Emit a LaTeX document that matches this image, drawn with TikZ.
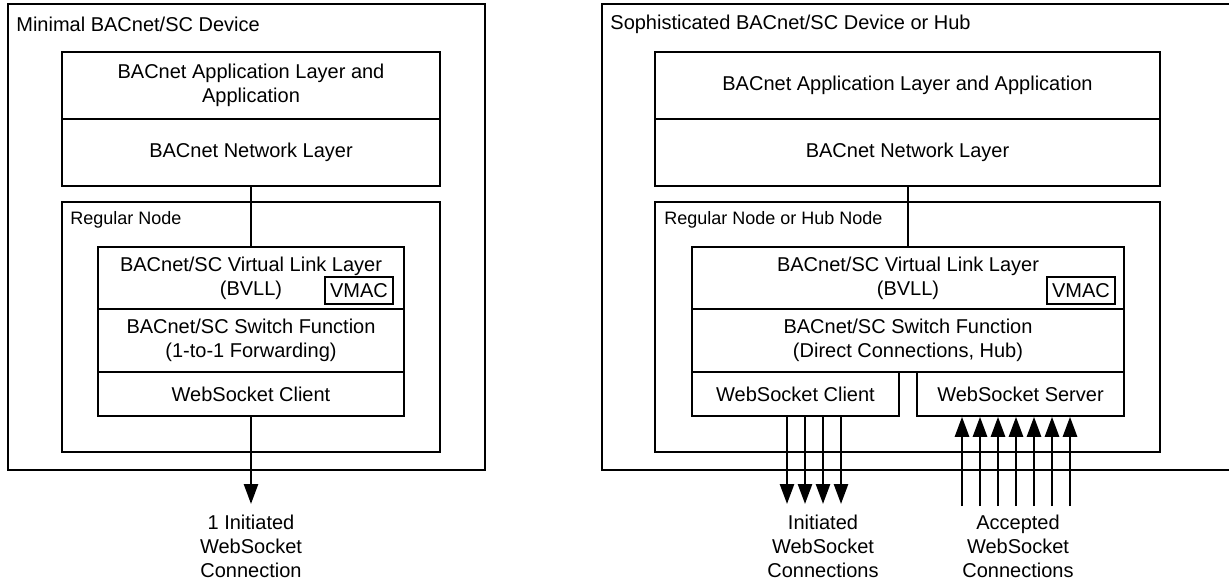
\documentclass[tikz,border=0pt]{standalone}
\usepackage{fontspec}
\setmainfont{Liberation Sans}
\usetikzlibrary{fit,arrows.meta}
\begin{document}
\begin{tikzpicture}[x=0.5pt,y=-0.5pt,
  box/.style={draw, line width=0.75pt, inner sep=0pt},
  lbl/.style={inner sep=0pt, align=center, font=\fontsize{10}{12}\selectfont},
  smalllbl/.style={inner sep=0pt, anchor=west, font=\fontsize{9}{11}\selectfont},
  conn/.style={line width=1pt},
  arr/.style={line width=1.3pt, -{Triangle[length=10pt,width=7pt]}}]
\clip (0,0) rectangle (1229,579);
\fill[white] (0,0) rectangle (1229,579);
% ---------- left device ----------
\node[box, fit={(8,4)(485,470)}] (ldev) {};
\node[lbl, anchor=west] (ldevt) at (16,24) {Minimal BACnet/SC Device};
\node[box, fit={(62,52)(440,119)}] (lapp) {};
\node[lbl] (lappt) at (lapp.center) {BACnet Application Layer and\\Application};
\node[box, fit={(62,119)(440,186)}] (lnet) {};
\node[lbl] (lnett) at (lnet.center) {BACnet Network Layer};
\node[box, fit={(62,202)(440,452)}] (lreg) {};
\node[smalllbl] (lregt) at (70,220) {Regular Node};
\node[box, fit={(98,247)(404,309)}] (lvll) {};
\node[lbl] (lvllt) at (lvll.center) {BACnet/SC Virtual Link Layer\\(BVLL)};
\node[box, fit={(325,277)(393,304)}] (lvmac) {};
\node[lbl] (lvmact) at (lvmac.center) {VMAC};
\node[box, fit={(98,309)(404,372)}] (lsw) {};
\node[lbl] (lswt) at (lsw.center) {BACnet/SC Switch Function\\(1-to-1 Forwarding)};
\node[box, fit={(98,372)(404,416)}] (lcli) {};
\node[lbl] (lclit) at (lcli.center) {WebSocket Client};
\draw[conn] (lvll.north |- lnet.south) -- (lvll.north);
\coordinate (lend) at (251,504);
\draw[arr] (lcli.south -| lend) -- (lend);
\node[lbl] (llab) at (251,546) {1 Initiated\\WebSocket\\Connection};
% ---------- right device ----------
\node[box, fit={(602,4)(1260,470)}] (rdev) {};
\node[lbl, anchor=west] (rdevt) at (610,24) {Sophisticated BACnet/SC Device or Hub};
\node[box, fit={(655,52)(1160,119)}] (rapp) {};
\node[lbl] (rappt) at (rapp.center) {BACnet Application Layer and Application};
\node[box, fit={(655,119)(1160,186)}] (rnet) {};
\node[lbl] (rnett) at (rnet.center) {BACnet Network Layer};
\node[box, fit={(655,202)(1160,452)}] (rreg) {};
\node[smalllbl] (rregt) at (664,220) {Regular Node or Hub Node};
\node[box, fit={(692,247)(1124,309)}] (rvll) {};
\node[lbl] (rvllt) at (rvll.center) {BACnet/SC Virtual Link Layer\\(BVLL)};
\node[box, fit={(1047,277)(1115,304)}] (rvmac) {};
\node[lbl] (rvmact) at (rvmac.center) {VMAC};
\node[box, fit={(692,309)(1124,372)}] (rsw) {};
\node[lbl] (rswt) at (rsw.center) {BACnet/SC Switch Function\\(Direct Connections, Hub)};
\node[box, fit={(692,372)(899,416)}] (rcli) {};
\node[lbl] (rclit) at (rcli.center) {WebSocket Client};
\node[box, fit={(917,372)(1124,416)}] (rsrv) {};
\node[lbl] (rsrvt) at (rsrv.center) {WebSocket Server};
\draw[conn] (rvll.north |- rnet.south) -- (rvll.north);
\foreach \x in {787,805,823,841}{
  \coordinate (ci\x) at (\x,504);
  \draw[arr] (rcli.south -| ci\x) -- (ci\x);
}
\foreach \x in {962,980,998,1016,1034,1052,1070}{
  \coordinate (sa\x) at (\x,506);
  \draw[arr] (sa\x) -- (rsrv.south -| sa\x);
}
\node[lbl] (rlab1) at (823,546) {Initiated\\WebSocket\\Connections};
\node[lbl] (rlab2) at (1018,546) {Accepted\\WebSocket\\Connections};
\end{tikzpicture}
\end{document}
